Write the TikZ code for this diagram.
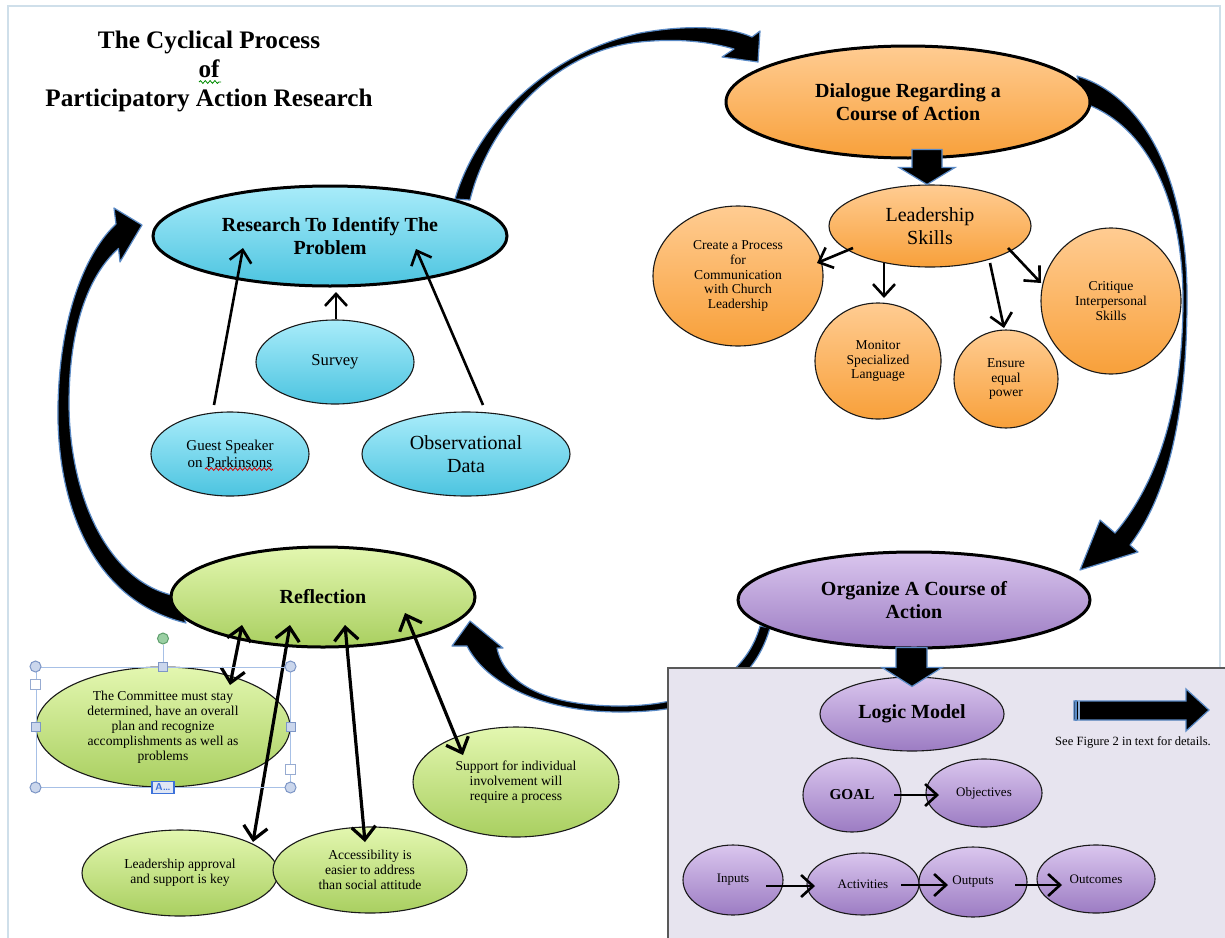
\documentclass[tikz,border=0pt]{standalone}
\usepackage{fontspec}
\setmainfont{Liberation Serif}
\usetikzlibrary{shapes.geometric,arrows.meta,calc,decorations.pathmorphing}

\definecolor{cyanT}{HTML}{A9ECFA}
\definecolor{cyanB}{HTML}{4CC4E0}
\definecolor{orgT}{HTML}{FFCC92}
\definecolor{orgB}{HTML}{F8A03A}
\definecolor{grnT}{HTML}{E3F7B0}
\definecolor{grnB}{HTML}{A9CF60}
\definecolor{purT}{HTML}{DAC6EE}
\definecolor{purB}{HTML}{9C7CC3}
\definecolor{panelbg}{HTML}{E7E4EF}
\definecolor{framecol}{HTML}{CFDFEA}
\definecolor{glow}{HTML}{5A8AC6}
\definecolor{selblue}{HTML}{A7C0E6}
\definecolor{handlefill}{HTML}{CAD6EC}
\definecolor{handledraw}{HTML}{7D96C6}
\definecolor{knobfill}{HTML}{9ACFA3}
\definecolor{knobdraw}{HTML}{5E9F6C}
\definecolor{badgeblue}{HTML}{3D72DA}

\begin{document}
\begin{tikzpicture}[x=0.5pt,y=-0.5pt,
  bubble/.style={ellipse, inner sep=0pt, align=center, text=black},
  thickrim/.style={draw=black, line width=1.5pt},
  thinrim/.style={draw=black!90, line width=0.55pt},
  cyanfill/.style={top color=cyanT, bottom color=cyanB},
  orangefill/.style={top color=orgT, bottom color=orgB},
  greenfill/.style={top color=grnT, bottom color=grnB},
  purplefill/.style={top color=purT, bottom color=purB},
  boldlbl/.style={font=\fontsize{10}{11.3}\selectfont\bfseries},
  biglbl/.style={font=\fontsize{10}{11.5}\selectfont},
  midlbl/.style={font=\fontsize{8.3}{9.5}\selectfont},
  guestlbl/.style={font=\fontsize{7.5}{8.5}\selectfont},
  smalllbl/.style={font=\fontsize{6.8}{7.45}\selectfont},
  tinylbl/.style={font=\fontsize{6.5}{7.5}\selectfont},
  arr/.style={line width=1.3pt, -{Straight Barb[length=6pt,width=11pt]}},
  dbl/.style={line width=1.6pt, {Straight Barb[length=6.5pt,width=12pt]}-{Straight Barb[length=6.5pt,width=12pt]}},
  bandarrow/.style={fill=black, draw=glow, line width=0.6pt, line join=round},
  blockarrow/.style={fill=black, draw=glow, line width=0.6pt},
  squiggle/.style={line width=0.4pt, decorate, decoration={snake, amplitude=0.7pt, segment length=2.4pt}},
  hcirc/.style={circle, draw=handledraw, fill=handlefill, line width=0.5pt, inner sep=0pt, minimum size=5.5pt},
  hsq/.style={rectangle, draw=handledraw, fill=handlefill, line width=0.5pt, inner sep=0pt, minimum size=4.5pt},
  hsqw/.style={rectangle, draw=handledraw!80, fill=white, line width=0.5pt, inner sep=0pt, minimum size=5pt}
]
\useasboundingbox (0,0) rectangle (1225,937);
\fill[white] (0,0) rectangle (1225,937);

% page frame
\draw[framecol, line width=1pt] (8,940) -- (8,6) -- (1220,6) -- (1220,668);

% title
\node[align=center, font=\fontsize{12.6}{14.5}\selectfont\bfseries] (title) at (209,71)
  {The Cyclical Process\\of\\Participatory Action Research};
\draw[squiggle, green!55!black] ($(title)+(-10,11)$) -- ($(title)+(12,11)$);

% curved cycle arrows
% research -> dialogue
\filldraw[bandarrow] (455,199) .. controls (475,130) and (540,55) .. (640,33)
  .. controls (690,24) and (730,27) .. (752,37) -- (760,31) -- (758,62) -- (722,57) -- (734,49)
  .. controls (710,42) and (680,38) .. (640,42) .. controls (558,50) and (490,120) .. (470,200) -- cycle;
% dialogue -> organize
\filldraw[bandarrow] (1077,76) .. controls (1150,98) and (1188,190) .. (1187,300)
  .. controls (1187,400) and (1172,490) .. (1130,545) -- (1138,552) -- (1080,570) -- (1100,520) -- (1115,533)
  .. controls (1160,480) and (1183,400) .. (1183,300) .. controls (1183,205) and (1150,128) .. (1086,104) -- cycle;
% organize -> reflection
\filldraw[bandarrow] (467,646) .. controls (485,682) and (540,712) .. (620,712)
  .. controls (700,712) and (752,690) .. (770,628) -- (760,626)
  .. controls (745,680) and (690,706) .. (620,706) .. controls (550,706) and (505,686) .. (497,648)
  -- (503,648) -- (470,621) -- (452,646) -- cycle;
% reflection -> research
\filldraw[bandarrow] (116,224) .. controls (88,250) and (60,310) .. (58,405)
  .. controls (56,500) and (90,600) .. (186,623) -- (176,596)
  .. controls (110,583) and (70,500) .. (69,405) .. controls (69,320) and (92,272) .. (118.5,248.5)
  -- (120,262) -- (142,225) -- (114,208) -- cycle;

% logic model panel
\filldraw[fill=panelbg, draw=black!65, line width=0.6pt] (668,668) rectangle (1232,945);

% research cluster
\node[bubble,thickrim,cyanfill,boldlbl,minimum width=177pt,minimum height=50pt] (research) at (330,236) {Research To Identify The\\Problem};
\node[bubble,thinrim,cyanfill,midlbl,minimum width=79pt,minimum height=42pt] (survey) at (335,362) {Survey};
\node[bubble,thinrim,cyanfill,guestlbl,minimum width=79pt,minimum height=42pt] (guest) at (230,454) {Guest Speaker\\on Parkinsons};
\node[bubble,thinrim,cyanfill,biglbl,minimum width=104pt,minimum height=42pt] (obs) at (466,454) {Observational\\Data};

% dialogue cluster
\node[bubble,thickrim,orangefill,boldlbl,minimum width=182pt,minimum height=56pt] (dialogue) at (908,102) {Dialogue Regarding a\\Course of Action};
\node[bubble,thinrim,orangefill,biglbl,minimum width=101pt,minimum height=41pt] (lead) at (930,226) {Leadership\\Skills};
\node[bubble,thinrim,orangefill,smalllbl,minimum width=85pt,minimum height=70pt] (create) at (738,276) {Create a Process\\for\\Communication\\with Church\\Leadership};
\node[bubble,thinrim,orangefill,smalllbl,minimum width=63pt,minimum height=58pt] (monitor) at (878,361) {Monitor\\Specialized\\Language};
\node[bubble,thinrim,orangefill,smalllbl,minimum width=52pt,minimum height=49pt] (ensure) at (1006,379) {Ensure\\equal\\power};
\node[bubble,thinrim,orangefill,smalllbl,minimum width=70pt,minimum height=73pt] (critique) at (1111,301) {Critique\\Interpersonal\\Skills};

% organize cluster
\node[bubble,thickrim,purplefill,boldlbl,minimum width=176pt,minimum height=48pt] (organize) at (914,600) {Organize A Course of\\Action};
\node[bubble,thinrim,purplefill,boldlbl,minimum width=92pt,minimum height=37pt] (logic) at (912,714) {Logic Model};
\node[bubble,thinrim,purplefill,font=\fontsize{7.6}{8.5}\selectfont\bfseries,minimum width=49pt,minimum height=37pt] (goal) at (852,795) {GOAL};
\node[bubble,thinrim,purplefill,tinylbl,minimum width=58pt,minimum height=34pt] (obj) at (984,793) {Objectives};
\node[bubble,thinrim,purplefill,tinylbl,minimum width=50pt,minimum height=35pt] (inputs) at (733,880) {Inputs};
\node[bubble,thinrim,purplefill,tinylbl,minimum width=56pt,minimum height=31pt] (activities) at (863,884) {Activities};
\node[bubble,thinrim,purplefill,tinylbl,minimum width=54pt,minimum height=35pt] (outputs) at (973,882) {Outputs};
\node[bubble,thinrim,purplefill,tinylbl,minimum width=59pt,minimum height=34pt] (outcomes) at (1096,879) {Outcomes};
\node[font=\fontsize{6.3}{7}\selectfont] (note) at (1133,742) {See Figure 2 in text for details.};

% reflection cluster
\node[bubble,thickrim,greenfill,boldlbl,minimum width=152pt,minimum height=50pt] (reflection) at (323,597) {Reflection};
\node[bubble,thinrim,greenfill,smalllbl,minimum width=127pt,minimum height=60pt] (committee) at (163,727) {The Committee must stay\\determined, have an overall\\plan and recognize\\accomplishments as well as\\problems};
\node[bubble,thinrim,greenfill,smalllbl,minimum width=98pt,minimum height=43pt] (approval) at (180,873) {Leadership approval\\and support is key};
\node[bubble,thinrim,greenfill,smalllbl,minimum width=97pt,minimum height=43pt] (access) at (370,870) {Accessibility is\\easier to address\\than social attitude};
\node[bubble,thinrim,greenfill,smalllbl,minimum width=103pt,minimum height=55pt] (support) at (516,782) {Support for individual\\involvement will\\require a process};

% connectors into the research node
\draw[arr] ($(guest)+(-16,-49)$) -- ($(research)+(-87,12)$);
\draw[arr] ($(survey)+(1,-43)$) -- ($(research)+(6,56)$);
\draw[arr] ($(obs)+(17,-49)$) -- ($(research)+(86,13)$);

% leadership skills branches
\draw[arr] ($(lead)+(-77,22)$) -- ($(create)+(79,-13)$);
\draw[arr] ($(lead)+(-46,37)$) -- ($(monitor)+(6,-63)$);
\draw[arr] ($(lead)+(60,37)$) -- ($(ensure)+(-2,-51)$);
\draw[arr] ($(lead)+(78,22)$) -- ($(critique)+(-70,-18)$);

% reflection links
\draw[dbl] ($(reflection)+(-81,28)$) -- ($(committee)+(67,-42)$);
\draw[dbl] ($(reflection)+(-33,28)$) -- ($(approval)+(73,-31)$);
\draw[dbl] ($(reflection)+(22,28)$) -- ($(access)+(-5,-28)$);
\draw[dbl] ($(reflection)+(82,16)$) -- ($(support)+(-53,-27)$);

% logic model chain
\draw[arr] ($(goal)+(42,0)$) -- ($(obj)+(-45,2)$);
\draw[arr] ($(inputs)+(33,6)$) -- ($(activities)+(-48,2)$);
\draw[arr] ($(activities)+(38,1)$) -- ($(outputs)+(-25,3)$);
\draw[arr] ($(outputs)+(42,3)$) -- ($(outcomes)+(-34,6)$);

% block arrows
\filldraw[blockarrow] ($(lead.north)+(-3,0)$) -- ++(-28,-17) -- ++(13,0) -- ++(0,-18) -- ++(30,0) -- ++(0,18) -- ++(13,0) -- cycle;
\filldraw[blockarrow] ($(logic.north)+(0,10)$) -- ++(-30,-19) -- ++(14,0) -- ++(0,-20) -- ++(31,0) -- ++(0,20) -- ++(15,0) -- cycle;
\filldraw[blockarrow] (1074,701) -- (1186,701) -- (1186,689) -- (1209,710) -- (1186,731) -- (1186,720) -- (1074,720) -- cycle;
\draw[glow, line width=0.8pt] (1076,700) -- (1076,721);
\draw[glow!70, line width=0.6pt] (1079,700) -- (1079,721);

% spelling mark
\draw[squiggle, red!85!black] ($(guest)+(-25,15)$) -- ($(guest)+(43,15)$);

% selection frame around the committee bubble
\node[draw=selblue, line width=0.5pt, minimum width=127pt, minimum height=60pt, inner sep=0pt] (selbox) at (committee) {};
\node[circle, draw=knobdraw, fill=knobfill, line width=0.5pt, inner sep=0pt, minimum size=5.5pt] (knob) at ($(selbox.north)+(0,-28)$) {};
\draw[selblue, line width=0.5pt] (knob) -- (selbox.north);
\node[hcirc] (hnw) at (selbox.north west) {};
\node[hcirc] (hne) at (selbox.north east) {};
\node[hcirc] (hsw) at (selbox.south west) {};
\node[hcirc] (hse) at (selbox.south east) {};
\node[hsq] (hn) at (selbox.north) {};
\node[hsq] (hw) at (selbox.west) {};
\node[hsq] (he) at (selbox.east) {};
\node[hsqw] (hw2) at ($(selbox.north west)+(0,18)$) {};
\node[hsqw] (he2) at ($(selbox.south east)+(0,-18)$) {};
\node[draw=badgeblue, fill=handlefill!60, line width=0.6pt, minimum width=11pt, minimum height=6pt, inner sep=0pt,
      font=\fontsize{5}{5}\selectfont\bfseries\sffamily, text=badgeblue] (badge) at (selbox.south) {A\ldots};
\end{tikzpicture}
\end{document}
